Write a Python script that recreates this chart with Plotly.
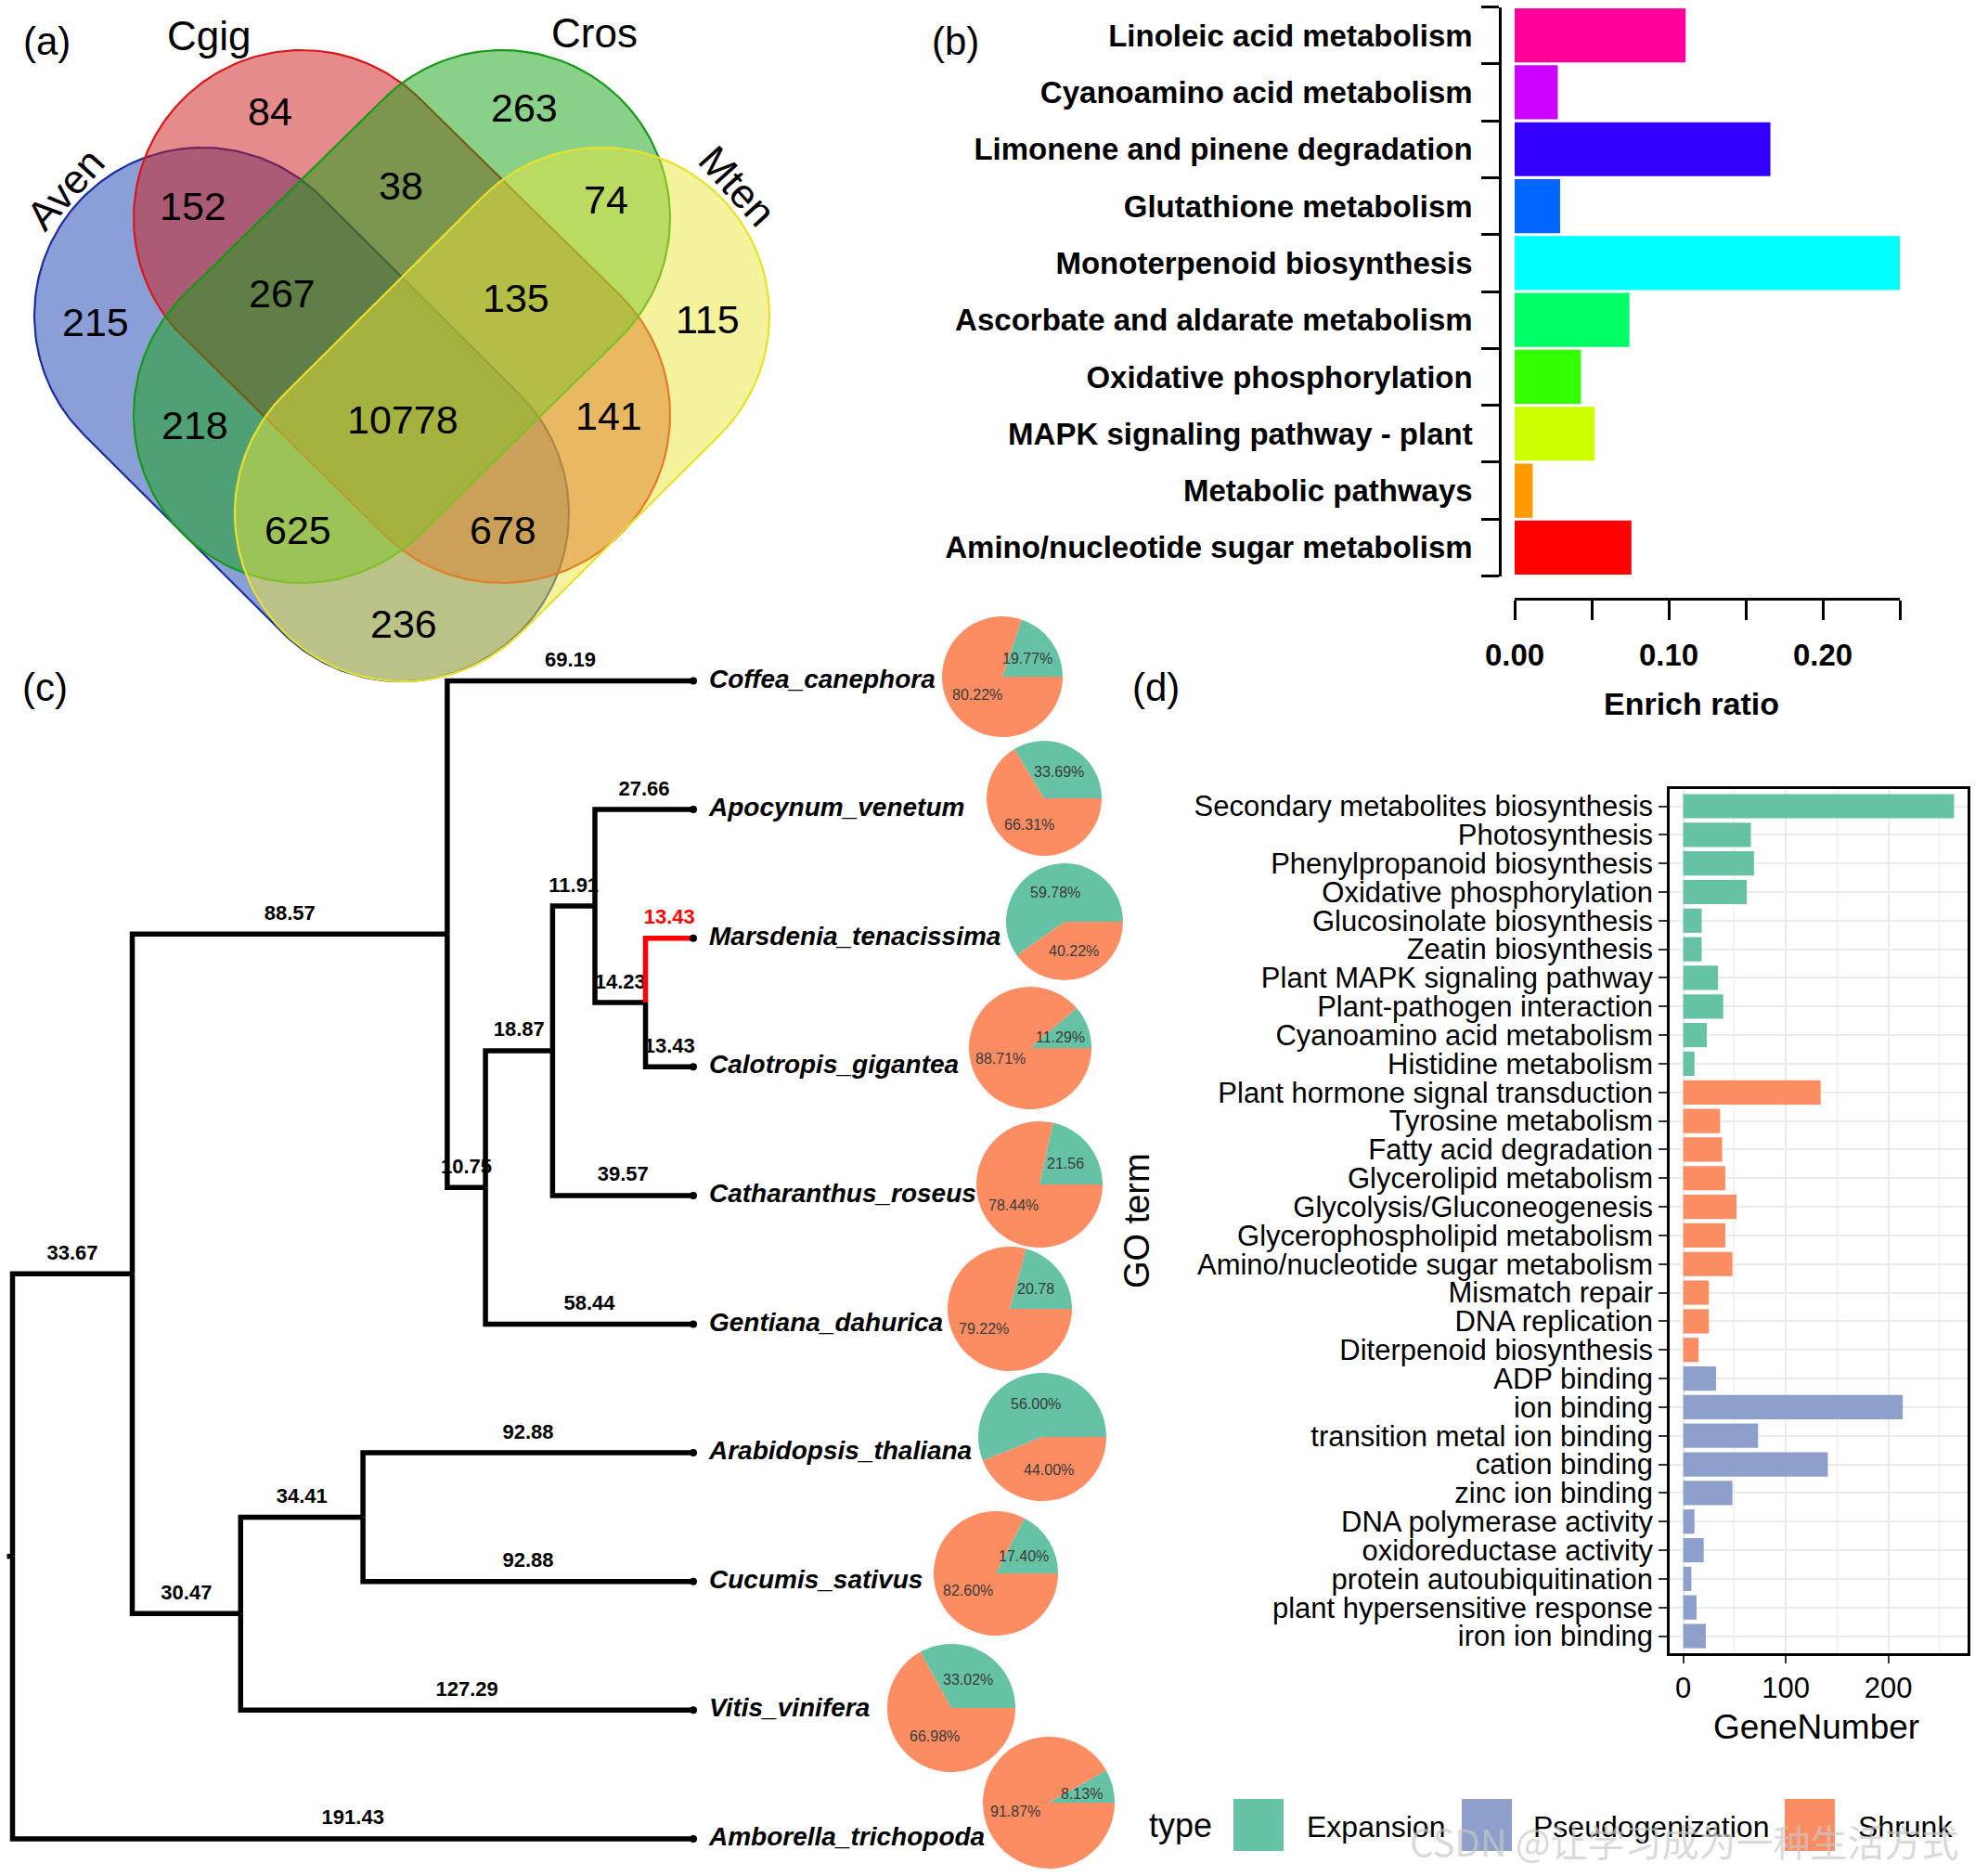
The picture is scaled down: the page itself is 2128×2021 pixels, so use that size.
import math
import numpy as np
import plotly.graph_objects as go

W, H = 2128, 2021
FONT = "Liberation Sans, Arial, Helvetica, sans-serif"

# ======================= DATA =======================
# (a) Venn diagram of gene families
venn_set_names = ["Aven", "Cgig", "Cros", "Mten"]
venn_region_sets = ["Cgig", "Cros", "Aven&Cgig", "Cgig&Cros", "Cros&Mten", "Aven",
                    "Aven&Cgig&Cros", "Cgig&Cros&Mten", "Mten", "Aven&Cros",
                    "Aven&Cgig&Cros&Mten", "Cgig&Mten", "Aven&Cros&Mten",
                    "Aven&Cgig&Mten", "Aven&Mten"]
venn_region_counts = [84, 263, 152, 38, 74, 215, 267, 135, 115, 218, 10778, 141, 625, 678, 236]

# (b) KEGG enrichment
kegg_terms = ["Linoleic acid metabolism", "Cyanoamino acid metabolism",
              "Limonene and pinene degradation", "Glutathione metabolism",
              "Monoterpenoid biosynthesis", "Ascorbate and aldarate metabolism",
              "Oxidative phosphorylation", "MAPK signaling pathway - plant",
              "Metabolic pathways", "Amino/nucleotide sugar metabolism"]
kegg_enrich_ratio = [0.111, 0.028, 0.166, 0.0295, 0.250, 0.0745, 0.043, 0.052, 0.0117, 0.0758]
enrich_tickvals = [0.00, 0.05, 0.10, 0.15, 0.20, 0.25]
enrich_ticktext = ["0.00", "", "0.10", "", "0.20", ""]

# (c) species tree (branch lengths) and gene family expansion / contraction
species_tree_newick = ("(((Coffea_canephora:69.19,(((Apocynum_venetum:27.66,"
                       "(Marsdenia_tenacissima:13.43,Calotropis_gigantea:13.43):14.23):11.91,"
                       "Catharanthus_roseus:39.57):18.87,Gentiana_dahurica:58.44):10.75):88.57,"
                       "((Arabidopsis_thaliana:92.88,Cucumis_sativus:92.88):34.41,"
                       "Vitis_vinifera:127.29):30.47):33.67,Amborella_trichopoda:191.43);")
highlight_species = "Marsdenia_tenacissima"
pie_species = ["Coffea_canephora", "Apocynum_venetum", "Marsdenia_tenacissima",
               "Calotropis_gigantea", "Catharanthus_roseus", "Gentiana_dahurica",
               "Arabidopsis_thaliana", "Cucumis_sativus", "Vitis_vinifera",
               "Amborella_trichopoda"]
expansion_pct = [19.77, 33.69, 59.78, 11.29, 21.56, 20.78, 56.00, 17.40, 33.02, 8.13]
shrunk_pct = [80.22, 66.31, 40.22, 88.71, 78.44, 79.22, 44.00, 82.60, 66.98, 91.87]
expansion_label = ["19.77%", "33.69%", "59.78%", "11.29%", "21.56", "20.78",
                   "56.00%", "17.40%", "33.02%", "8.13%"]
shrunk_label = ["80.22%", "66.31%", "40.22%", "88.71%", "78.44%", "79.22%",
                "44.00%", "82.60%", "66.98%", "91.87%"]

# (d) GO / pathway terms
go_terms = ["Secondary metabolites biosynthesis", "Photosynthesis",
            "Phenylpropanoid biosynthesis", "Oxidative phosphorylation",
            "Glucosinolate biosynthesis", "Zeatin biosynthesis",
            "Plant MAPK signaling pathway", "Plant-pathogen interaction",
            "Cyanoamino acid metabolism", "Histidine metabolism",
            "Plant hormone signal transduction", "Tyrosine metabolism",
            "Fatty acid degradation", "Glycerolipid metabolism",
            "Glycolysis/Gluconeogenesis", "Glycerophospholipid metabolism",
            "Amino/nucleotide sugar metabolism", "Mismatch repair",
            "DNA replication", "Diterpenoid biosynthesis",
            "ADP binding", "ion binding", "transition metal ion binding",
            "cation binding", "zinc ion binding", "DNA polymerase activity",
            "oxidoreductase activity", "protein autoubiquitination",
            "plant hypersensitive response", "iron ion binding"]
go_gene_number = [264, 66, 69, 62, 18, 18, 34, 39, 23, 11,
                  134, 36, 38, 41, 52, 41, 48, 25, 25, 15,
                  32, 214, 73, 141, 48, 11, 20, 8, 13, 22]
go_type = ["Expansion"] * 10 + ["Shrunk"] * 10 + ["Pseudogenization"] * 10
type_names = ["Expansion", "Pseudogenization", "Shrunk"]
gene_ticks = [0, 100, 200]
gene_minor_ticks = [50, 150, 250]

# ======================= STYLE / LAYOUT =======================
venn_fill = ["rgba(21,61,175,0.5)", "rgba(205,23,23,0.5)",
             "rgba(19,161,19,0.5)", "rgba(233,229,57,0.5)"]
venn_line = ["#1B2CA0", "#D81818", "#149A14", "#E6E22C"]
# capsule (stadium) shapes: two cap centres + radius, in pixels
venn_caps = [((218, 340), (432, 553)), ((325, 235), (541, 447)),
             ((541, 235), (325, 447)), ((648, 340), (434, 553))]
VENN_R = 181
venn_region_xy = [(291, 120), (565, 116), (208, 222), (432, 200), (653, 215),
                  (103, 347), (304, 316), (556, 321), (762, 344), (210, 458),
                  (434, 452), (656, 448), (321, 571), (542, 571), (435, 672)]
venn_name_xy = [(70, 203, -48), (225, 38, 0), (640, 35, 0), (795, 200, 48)]

kegg_colors = ["#FF0099", "#CC00FF", "#3300FF", "#0066FF", "#00FFFF",
               "#00FF66", "#33FF00", "#CCFF00", "#FF9900", "#FF0000"]
type_colors = {"Expansion": "#66C2A5", "Pseudogenization": "#8DA0CB", "Shrunk": "#FC8D62"}

TREE_ROOT_PX, TREE_TIP_PX = 13.5, 747.0
TIP0_PY, TIP_STEP = 733.5, 138.6
pie_center_r = [(1080, 729, 65), (1125, 860, 62), (1147, 993, 63), (1110, 1129, 66),
                (1120, 1276, 68), (1088, 1410, 67), (1123, 1548, 69), (1073, 1695, 67),
                (1025, 1840, 69), (1130, 1942, 71)]


def fx(px):
    return px / W


def fy(py):
    return 1 - py / H


def ann(x, y, text, size, xref="paper", yref="paper", xanchor="center", **kw):
    font = dict(family=kw.pop("family", FONT), size=size, color=kw.pop("color", "black"))
    if "weight" in kw:
        font["weight"] = kw.pop("weight")
    d = dict(x=fx(x) if xref == "paper" else x, y=fy(y) if yref == "paper" else y,
             xref=xref, yref=yref, text=text, showarrow=False, xanchor=xanchor,
             yanchor="middle", font=font)
    d.update(kw)
    return d


fig = go.Figure()

# ---------------- (a) Venn ----------------
for i in range(4):
    (x1, y1), (x2, y2) = venn_caps[i]
    ang = math.atan2(y2 - y1, x2 - x1)
    a2 = np.linspace(ang - np.pi / 2, ang + np.pi / 2, 120)
    a1 = np.linspace(ang + np.pi / 2, ang + 3 * np.pi / 2, 120)
    xs = np.concatenate([x2 + VENN_R * np.cos(a2), x1 + VENN_R * np.cos(a1), [x2 + VENN_R * np.cos(a2[0])]])
    ys = np.concatenate([y2 + VENN_R * np.sin(a2), y1 + VENN_R * np.sin(a1), [y2 + VENN_R * np.sin(a2[0])]])
    fig.add_trace(go.Scatter(x=xs, y=ys, mode="lines", fill="toself",
                             fillcolor=venn_fill[i], line=dict(color=venn_line[i], width=2.2),
                             xaxis="x", yaxis="y", hoverinfo="skip", showlegend=False,
                             name=venn_set_names[i]))

annotations = []
for (x, y), n in zip(venn_region_xy, venn_region_counts):
    annotations.append(ann(x, y, str(n), 43, xref="x", yref="y"))
for (x, y, a), nm in zip(venn_name_xy, venn_set_names):
    annotations.append(ann(x, y, nm, 44, xref="x", yref="y", textangle=a))

# ---------------- (b) KEGG bars ----------------
fig.add_trace(go.Bar(x=kegg_enrich_ratio, y=kegg_terms, orientation="h",
                     marker=dict(color=kegg_colors, line=dict(width=0)), width=0.95,
                     xaxis="x2", yaxis="y2", hoverinfo="skip", showlegend=False))


# ---------------- (c) tree ----------------
def parse_newick(s):
    pos = [0]

    def node():
        children = []
        if s[pos[0]] == "(":
            pos[0] += 1
            while True:
                children.append(node())
                ch = s[pos[0]]
                pos[0] += 1
                if ch == ")":
                    break
        start = pos[0]
        while s[pos[0]] not in ":,);":
            pos[0] += 1
        name = s[start:pos[0]]
        length = 0.0
        if s[pos[0]] == ":":
            pos[0] += 1
            start = pos[0]
            while s[pos[0]] not in ",);":
                pos[0] += 1
            length = float(s[start:pos[0]])
        return {"name": name, "len": length, "children": children}

    return node()


tree = parse_newick(species_tree_newick)
tip_order = []


def assign(nd, x0):
    nd["x"] = x0 + nd["len"]
    if nd["children"]:
        for c in nd["children"]:
            assign(c, nd["x"])
        nd["y"] = (nd["children"][0]["y"] + nd["children"][-1]["y"]) / 2
    else:
        nd["y"] = len(tip_order)
        tip_order.append(nd)


assign(tree, 0.0)
depth = max(tp["x"] for tp in tip_order)
scale = (TREE_TIP_PX - TREE_ROOT_PX) / depth          # px per Myr
TREE_LEFT_PX, TREE_RIGHT_PX = 0.0, 820.0
TREE_TOP_PY, TREE_BOT_PY = 650.0, 2021.0
x3_range = [(TREE_LEFT_PX - TREE_ROOT_PX) / scale, (TREE_RIGHT_PX - TREE_ROOT_PX) / scale]
y3_range = [(TREE_BOT_PY - TIP0_PY) / TIP_STEP, (TREE_TOP_PY - TIP0_PY) / TIP_STEP]

blk_x, blk_y, red_x, red_y = [], [], [], []
lab_x, lab_y, lab_t, lab_c = [], [], [], []
lab_dy = 21 / TIP_STEP


def collect(nd):
    for c in nd["children"]:
        px_ = [nd["x"], nd["x"], c["x"], None]
        py_ = [nd["y"], c["y"], c["y"], None]
        red = c["name"] == highlight_species
        if red:
            red_x.extend(px_); red_y.extend(py_)
        else:
            blk_x.extend(px_); blk_y.extend(py_)
        lab_x.append(nd["x"] + c["len"] / 2)
        lab_y.append(c["y"] - lab_dy)
        lab_t.append(f"{c['len']:.2f}")
        lab_c.append("#FF0000" if red else "black")
        collect(c)


collect(tree)
blk_x.extend([-6 / scale, 0, None]); blk_y.extend([tree["y"], tree["y"], None])

fig.add_trace(go.Scatter(x=lab_x, y=lab_y, mode="text", text=lab_t,
                         textfont=dict(family=FONT, size=22, color=lab_c, weight="bold"),
                         textposition="middle center", cliponaxis=False,
                         xaxis="x3", yaxis="y3", hoverinfo="skip", showlegend=False))
fig.add_trace(go.Scatter(x=blk_x, y=blk_y, mode="lines", line=dict(color="black", width=5.5),
                         xaxis="x3", yaxis="y3", hoverinfo="skip", showlegend=False))
fig.add_trace(go.Scatter(x=red_x, y=red_y, mode="lines", line=dict(color="#FF0000", width=5.5),
                         xaxis="x3", yaxis="y3", hoverinfo="skip", showlegend=False))
fig.add_trace(go.Scatter(x=[tp["x"] for tp in tip_order], y=[tp["y"] for tp in tip_order],
                         mode="markers", marker=dict(color="black", size=8),
                         cliponaxis=False, xaxis="x3", yaxis="y3", hoverinfo="skip",
                         showlegend=False))
fig.add_trace(go.Scatter(x=[tp["x"] + 17 / scale for tp in tip_order],
                         y=[tp["y"] for tp in tip_order], mode="text",
                         text=[tp["name"] for tp in tip_order], textposition="middle right",
                         textfont=dict(family=FONT, size=28, color="black", weight="bold",
                                       style="italic"),
                         cliponaxis=False, xaxis="x3", yaxis="y3", hoverinfo="skip",
                         showlegend=False))

# pies
for i, sp in enumerate(pie_species):
    cx, cy, r = pie_center_r[i]
    e, s_ = expansion_pct[i], shrunk_pct[i]
    theta_e = 360 * e / (e + s_)
    fig.add_trace(go.Pie(values=[e, s_], labels=["Expansion", "Shrunk"],
                         marker=dict(colors=[type_colors["Expansion"], type_colors["Shrunk"]],
                                     line=dict(width=0)),
                         sort=False, direction="clockwise", rotation=90 - theta_e,
                         textinfo="none", hoverinfo="skip", showlegend=False,
                         domain=dict(x=[fx(cx - r), fx(cx + r)], y=[fy(cy + r), fy(cy - r)])))
    mids = [theta_e / 2, theta_e + (360 - theta_e) / 2]
    for lbl, m in zip([expansion_label[i], shrunk_label[i]], mids):
        ax = cx + 0.52 * r * math.cos(math.radians(m))
        ay = cy - 0.52 * r * math.sin(math.radians(m))
        annotations.append(ann(ax, ay, lbl, 16, color="#3a3a3a"))

# ---------------- (d) GO bars ----------------
for tn in type_names:
    idx = [k for k, tt in enumerate(go_type) if tt == tn]
    fig.add_trace(go.Bar(x=[go_gene_number[k] for k in idx], y=[go_terms[k] for k in idx],
                         orientation="h", width=0.85,
                         marker=dict(color=type_colors[tn], line=dict(width=0)),
                         xaxis="x4", yaxis="y4", hoverinfo="skip", showlegend=False, name=tn))

gmax = max(go_gene_number)
n_go = len(go_terms)

for txt, x, y in [("(a)", 50, 45), ("(b)", 1029, 45), ("(c)", 48, 741), ("(d)", 1245, 741)]:
    annotations.append(ann(x, y, txt, 42))
annotations.append(ann(1822, 758, "Enrich ratio", 34, weight="bold"))
annotations.append(ann(1957, 1860, "GeneNumber", 37))
annotations.append(ann(1225, 1315, "GO term", 38, textangle=-90))
annotations.append(ann(1272, 1966, "type", 36))
shapes = []
legend_pos = {"Expansion": (1329, 1406), "Pseudogenization": (1575, 1650), "Shrunk": (1923, 2000)}
for tn in type_names:
    sx, tx = legend_pos[tn]
    shapes.append(dict(type="rect", xref="paper", yref="paper", x0=fx(sx), x1=fx(sx + 54),
                       y0=fy(1994), y1=fy(1938), fillcolor=type_colors[tn], line=dict(width=0)))
    annotations.append(ann(tx, 1968, tn, 32, xanchor="left"))
annotations.append(ann(1815, 1983, "CSDN @让学习成为一种生活方式", 40,
                       family="Noto Sans CJK SC", color="rgba(200,200,200,0.7)"))

fig.update_layout(
    width=W, height=H, margin=dict(l=0, r=0, t=0, b=0, pad=0, autoexpand=False),
    paper_bgcolor="white", plot_bgcolor="rgba(0,0,0,0)", showlegend=False,
    barmode="overlay", font=dict(family=FONT, color="black"),
    xaxis=dict(domain=[0, fx(860)], range=[0, 860], visible=False),
    yaxis=dict(domain=[fy(745), 1], range=[745, 0], visible=False),
    xaxis2=dict(domain=[fx(1632), fx(2047)], range=[0, 0.25], anchor="free",
                position=fy(645), showline=True, linecolor="black", linewidth=2.5,
                ticks="outside", ticklen=21, tickwidth=2.5, tickcolor="black",
                tickvals=enrich_tickvals, ticktext=enrich_ticktext, ticklabelstandoff=10,
                tickfont=dict(family=FONT, size=33, color="black", weight="bold"),
                showgrid=False, zeroline=False, automargin=False),
    yaxis2=dict(domain=[fy(620.5), fy(7.5)], type="category", categoryorder="array",
                categoryarray=kegg_terms, range=[len(kegg_terms) - 0.5, -0.5],
                anchor="free", position=fx(1616), showline=True, linecolor="black",
                linewidth=2.5, ticks="outside", ticklen=19, tickwidth=2.5, tickcolor="black",
                tickson="boundaries", ticklabelstandoff=22,
                tickmode="array", tickvals=kegg_terms, ticktext=kegg_terms,
                tickfont=dict(family=FONT, size=33, color="black", weight="bold"),
                showgrid=False, zeroline=False, automargin=False),
    xaxis3=dict(domain=[fx(TREE_LEFT_PX), fx(TREE_RIGHT_PX)], range=x3_range, visible=False),
    yaxis3=dict(domain=[fy(TREE_BOT_PY), fy(TREE_TOP_PY)], range=y3_range, visible=False),
    xaxis4=dict(domain=[fx(1799), fx(2120)], range=[-0.05 * gmax, 1.05 * gmax], anchor="y4",
                showline=True, mirror=True, linecolor="black", linewidth=2.5,
                ticks="outside", ticklen=8, tickwidth=2, tickcolor="#333333",
                tickvals=gene_ticks, tickfont=dict(family=FONT, size=31, color="black"),
                showgrid=True, gridcolor="#EBEBEB", gridwidth=2, zeroline=False,
                automargin=False,
                minor=dict(tickvals=gene_minor_ticks, showgrid=True, gridcolor="#EBEBEB",
                           gridwidth=1, ticks="")),
    yaxis4=dict(domain=[fy(1781), fy(850)], type="category", categoryorder="array",
                categoryarray=go_terms, range=[n_go - 1 + 0.6, -0.6], anchor="x4",
                showline=True, mirror=True, linecolor="black", linewidth=2.5,
                ticks="outside", ticklen=9, tickwidth=2, tickcolor="#333333",
                tickmode="array", tickvals=go_terms, ticktext=go_terms,
                tickfont=dict(family=FONT, size=31, color="black"),
                showgrid=True, gridcolor="#EBEBEB", gridwidth=2, zeroline=False,
                automargin=False),
    annotations=annotations, shapes=shapes,
)

fig.write_html("out.html", config={"displayModeBar": False},
               post_script="document.body.style.margin='0';document.body.style.overflow='hidden';")
